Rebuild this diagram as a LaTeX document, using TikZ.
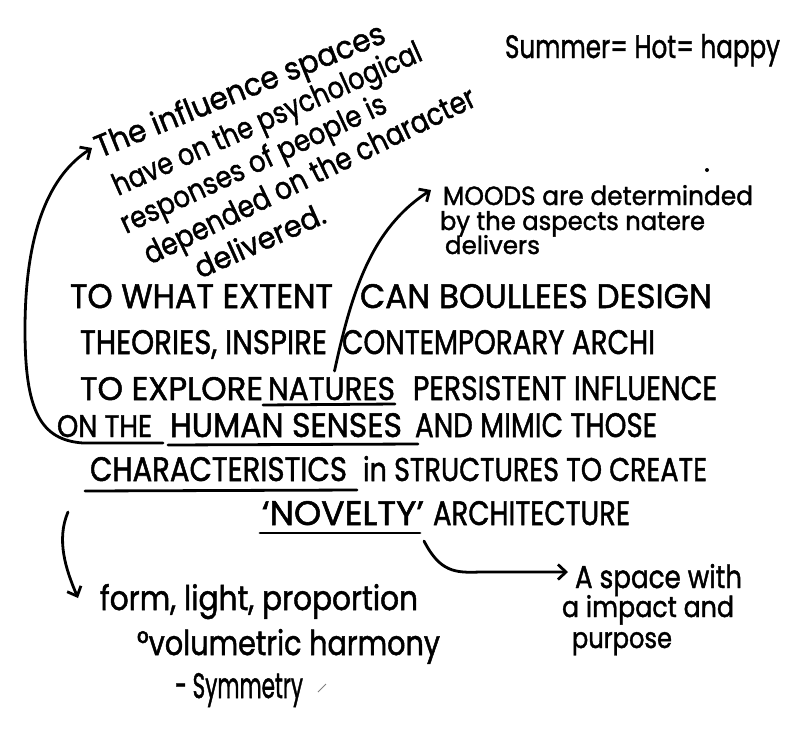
\documentclass[tikz,border=0pt]{standalone}
\usepackage{fontspec}
\setmainfont{Poppins}[FakeBold=1.5]
\usetikzlibrary{arrows.meta,calc}
\newcommand\segh[3]{\resizebox{#1}{#2}{#3}}
\begin{document}
\begin{tikzpicture}[x=1pt,y=-1pt,
  hand/.style={inner sep=0pt, outer sep=0pt, anchor=base west, font=\fontsize{28}{32}\selectfont},
  ink/.style={line width=2.8pt, line cap=round, line join=round},
  arr/.style={ink, -{Straight Barb[length=8pt,width=15pt,line width=2.8pt]}}]
\useasboundingbox (0,0) rectangle (798,729);

% top right note
\node[hand] (sum) at (505,58) {\segh{275pt}{24pt}{Summer= Hot= happy}};

% rotated block
\node[hand, rotate=22] (l1) at (100,158) {\segh{310pt}{24pt}{The influence spaces}};
\node[hand, rotate=24] (l2) at (118,196) {\segh{335pt}{23pt}{have on the psychological}};
\node[hand, rotate=25] (l3) at (126,234) {\segh{290pt}{23pt}{responses of people is}};
\node[hand, rotate=26] (l4) at (150,265) {\segh{365pt}{23pt}{depended on the character}};
\node[hand, rotate=24] (l5) at (200,279) {\segh{140pt}{23pt}{delivered.}};

% moods
\node[hand] (m1) at (443,205) {\segh{310pt}{20pt}{MOODS are determinded}};
\node[hand] (m2) at (440,230) {\segh{265pt}{19pt}{by the aspects natere}};
\node[hand] (m3) at (445,254) {\segh{95pt}{19pt}{delivers}};
\fill (707,170) circle (2);

% main question
\node[hand] (a1) at (70,308) {\segh{263pt}{24pt}{TO WHAT EXTENT}};
\node[hand] (a2) at (360,308) {\segh{352pt}{24pt}{CAN BOULLEES DESIGN}};
\node[hand] (b1) at (80,354) {\segh{247pt}{24pt}{THEORIES, INSPIRE}};
\node[hand] (b2) at (342,354) {\segh{313pt}{24pt}{CONTEMPORARY ARCHI}};
\node[hand] (c1) at (80,400) {\segh{183pt}{23pt}{TO EXPLORE}};
\node[hand] (c2) at (268,400) {\segh{127pt}{23pt}{NATURES}};
\node[hand] (c3) at (413,400) {\segh{304pt}{24pt}{PERSISTENT INFLUENCE}};
\node[hand] (d1) at (57,437) {\segh{95pt}{22pt}{ON THE}};
\node[hand] (d2) at (170,437) {\segh{232pt}{24pt}{HUMAN SENSES}};
\node[hand] (d3) at (415,437) {\segh{242pt}{24pt}{AND MIMIC THOSE}};
\node[hand] (e1) at (90,481) {\segh{257pt}{24pt}{CHARACTERISTICS}};
\node[hand] (e2) at (363,481) {\segh{344pt}{25pt}{in STRUCTURES TO CREATE}};
\node[hand] (f1) at (262,525) {\segh{162pt}{24pt}{‘NOVELTY’}};
\node[hand] (f2) at (433,525) {\segh{197pt}{24pt}{ARCHITECTURE}};

% underlines
\draw[ink] ([shift={(-5,5)}]c2.base west) -- ([shift={(0,4)}]c2.base east);
\draw[ink] ([shift={(-2,8)}]d2.base west) -- ([shift={(16,7)}]d2.base east);
\draw[ink] ([shift={(-5,10)}]e1.base west) -- ([shift={(10,9)}]e1.base east);
\draw[ink] ([shift={(-2,8)}]f1.base west) -- ([shift={(-4,8)}]f1.base east);

% bottom notes
\node[hand] (fo) at (100,610) {\segh{318pt}{26pt}{form, light, proportion}};
\node[hand] (vo) at (137,655) {\segh{303pt}{26pt}{°volumetric harmony}};
\node[hand] (sy) at (175,698) {\segh{128pt}{25pt}{- Symmetry}};
\draw[line width=0.8pt, gray] (318,692) -- (326,684);

\node[hand] (as1) at (575,588) {\segh{167pt}{24pt}{A space with}};
\node[hand] (as2) at (562,617) {\segh{172pt}{22pt}{a impact and}};
\node[hand] (as3) at (572,648) {\segh{100pt}{16pt}{purpose}};

% connectors
\coordinate (onend) at ([shift={(11,6)}]d1.base east);
\draw[arr] (onend) -- (83,443) .. controls (40,440) and (25,410) .. (25,330)
  .. controls (25,230) and (50,175) .. ($(l1.base west)+(-8,-10)$);

\coordinate (sl) at ($(b1.base east)!.5!(b2.base west)+(0,17)$);
\draw[arr] (sl) .. controls (352,290) and (372,228) .. ($(m1.base west)+(-12,-15)$);

\coordinate (nv) at ([shift={(0,16)}]f1.base east);
\draw[arr] (nv) .. controls (440,572) and (455,573) .. (480,572) -- ($(as1.base west)+(-7,-16)$);

\coordinate (bl) at (68,512);
\draw[arr] (bl) .. controls (56,540) and (66,570) .. ($(fo.base west)+(-22,-12)$);
\end{tikzpicture}
\end{document}
